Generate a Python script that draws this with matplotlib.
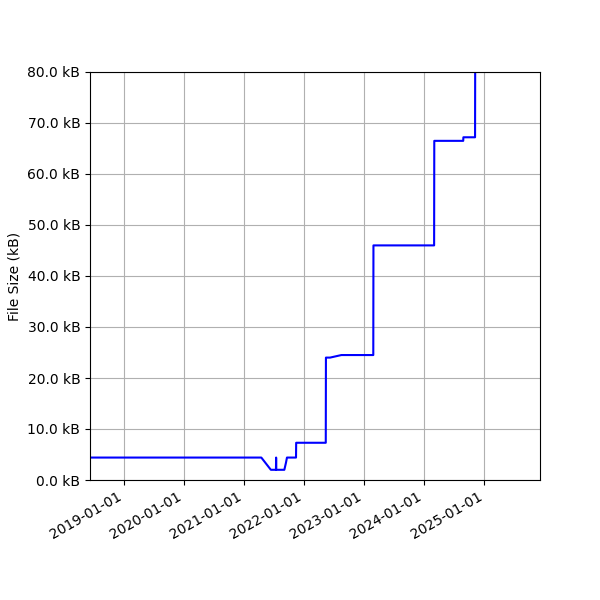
import matplotlib
matplotlib.use('Agg')
import matplotlib.pyplot as plt
import matplotlib.dates as mdates
from matplotlib.ticker import FuncFormatter
from datetime import datetime

# file size history (kB)
dates = ['2018-06-01', '2021-04-15', '2021-06-12', '2021-07-13', '2021-07-14', '2021-07-15',
         '2021-09-02', '2021-09-12', '2021-09-18', '2021-11-12', '2021-11-13', '2022-05-12',
         '2022-05-13', '2022-06-07', '2022-08-15', '2023-02-25', '2023-02-26', '2024-03-01',
         '2024-03-02', '2024-08-25', '2024-08-26', '2024-11-05', '2024-11-06']
sizes = [4.4, 4.4, 2.0, 2.0, 4.4, 2.0,
         2.0, 3.4, 4.4, 4.4, 7.3, 7.3,
         24.0, 24.0, 24.5, 24.5, 46.0, 46.0,
         66.5, 66.5, 67.2, 67.2, 85.0]

x = [datetime.strptime(d, '%Y-%m-%d') for d in dates]

fig = plt.figure(figsize=(6, 6), dpi=100)
ax = fig.add_axes([0.15, 0.2, 0.75, 0.68])
ax.plot(x, sizes, color='blue', lw=1.5)
ax.set_ylim(0, 80)
ax.set_xlim(datetime(2018, 6, 8), datetime(2025, 12, 5))
ax.xaxis.set_major_locator(mdates.YearLocator())
ax.xaxis.set_major_formatter(mdates.DateFormatter('%Y-%m-%d'))
ax.yaxis.set_major_formatter(FuncFormatter(lambda v, p: '%.1f kB' % v))
ax.set_ylabel('File Size (kB)')
ax.grid(True)
for lab in ax.get_xticklabels():
    lab.set_rotation(30)
    lab.set_ha('right')
fig.savefig('out.png')
